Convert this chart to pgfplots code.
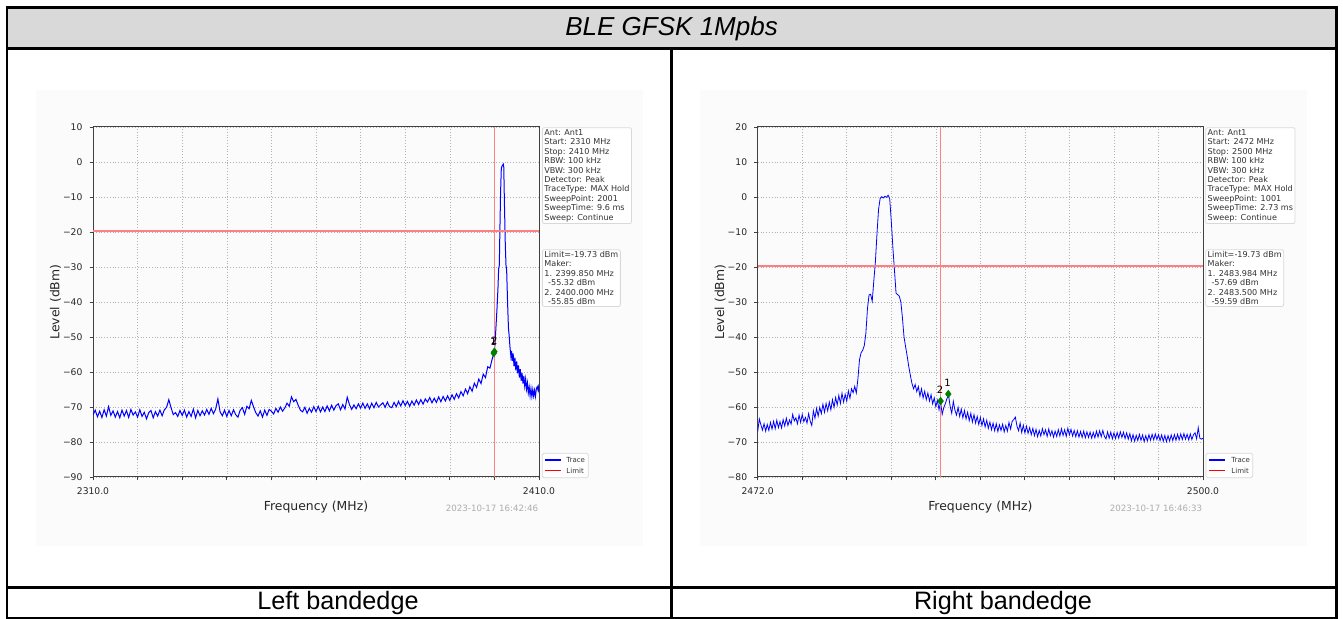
\documentclass[border=0pt]{standalone}
\usepackage{pgfplots}
\pgfplotsset{compat=1.18}
\usepackage{fontspec}
\setmainfont{DejaVu Sans}
\newfontfamily\arial{Liberation Sans}
\definecolor{hdr}{HTML}{D9D9D9}
\definecolor{limred}{HTML}{FF8080}
\definecolor{mkgreen}{HTML}{008000}
\definecolor{txt}{HTML}{333333}
\definecolor{figbg}{HTML}{FBFBFB}

\pgfplotsset{
  spec/.style={
    scale only axis, width=223pt, height=175pt,
    axis line style={black!75, line width=0.5pt},
    tick style={black!75, line width=0.4pt},
    major tick length=1.75pt,
    tick align=outside,
    xtick pos=bottom, ytick pos=left,
    grid=major,
    grid style={densely dotted, black!30, line width=0.3pt},
    ticklabel style={font=\fontsize{4.6}{5}\selectfont, text=black!85},
    label style={font=\fontsize{6.2}{7}\selectfont, text=black!85},
    xlabel={Frequency (MHz)},
    ylabel={Level (dBm)},
    xlabel style={at={(axis description cs:0.5,-0.086)}, anchor=center},
    ylabel style={at={(axis description cs:-0.084,0.5)}, anchor=center},
  },
  trace/.style={color=blue, line width=0.5pt},
  limit/.style={color=limred, line width=0.75pt},
  mk/.style={only marks, mark=diamond*, mark size=1.8pt, color=mkgreen},
}
\tikzset{
  info/.style={draw=black!15, fill=white, rounded corners=1pt, anchor=north west,
    align=left, inner xsep=1pt, inner ysep=0.8pt, text=txt,
    font=\fontsize{4.04}{4.73}\selectfont},
  stamp/.style={text=black!32, font=\fontsize{4.34}{5}\selectfont},
  legtxt/.style={anchor=west, inner sep=0pt, text=txt, font=\fontsize{3.5}{4}\selectfont},
}

\begin{document}
\begin{tikzpicture}
\path[use as bounding box] (0,0) rectangle (671.5pt,309.5pt);
\fill[white] (0,0) rectangle (671.5pt,309.5pt);

% table frame
\fill[hdr] (3.5pt,285.5pt) rectangle (668.5pt,305.5pt);
\fill[figbg] (18pt,36.5pt) rectangle (321.5pt,264.5pt);
\fill[figbg] (350pt,36.5pt) rectangle (653.5pt,264.5pt);
\draw[line width=1.5pt] (3pt,305.5pt) -- (669pt,305.5pt);
\draw[line width=1.4pt] (3pt,285.3pt) -- (669pt,285.3pt);
\draw[line width=1.4pt] (3pt,15.9pt) -- (669pt,15.9pt);
\draw[line width=0.8pt] (3pt,0.6pt) -- (669pt,0.6pt);
\draw[line width=1pt] (3.5pt,0.2pt) -- (3.5pt,306.2pt);
\draw[line width=1.2pt] (668.2pt,0.2pt) -- (668.2pt,306.2pt);
\draw[line width=1.4pt] (335.7pt,0.2pt) -- (335.7pt,285.5pt);
\node[font=\arial\itshape\fontsize{13}{15}\selectfont] at (335.8pt,295.3pt) {BLE GFSK 1Mpbs};
\node[font=\arial\fontsize{12.6}{14}\selectfont] at (169pt,8pt) {Left bandedge};
\node[font=\arial\fontsize{12.6}{14}\selectfont] at (501.5pt,8pt) {Right bandedge};

% left bandedge
\begin{axis}[spec, at={(46.5pt,71pt)},
  xmin=2310, xmax=2410, ymin=-90, ymax=10,
  xtick={2310,2320,...,2410},
  xticklabels={2310.0,,,,,,,,,,2410.0},
  ytick={-90,-80,...,10},
  yticklabels={−90,−80,−70,−60,−50,−40,−30,−20,−10,0,10}]
\addplot[trace] coordinates {
(2310,-72.3)(2310.5,-70.9)(2311,-72.8)(2311.5,-71.2)(2312,-73.0)(2312.5,-70.8)(2313,-72.6)(2313.5,-69.9)(2314,-72.4)(2314.5,-71.1)
(2315,-72.9)(2315.5,-71.3)(2316,-73.1)(2316.5,-70.9)(2317,-72.6)(2317.5,-71.0)(2318,-73.0)(2318.5,-70.7)(2319,-72.3)(2319.5,-71.4)
(2320,-72.9)(2320.5,-70.8)(2321,-72.7)(2321.5,-71.5)(2322,-73.4)(2322.5,-71.6)(2323,-71.0)(2323.5,-73.1)(2324,-71.3)(2324.5,-72.6)
(2325,-70.9)(2325.5,-72.5)(2326,-70.8)(2326.5,-70.1)(2327,-67.9)(2327.5,-70.2)(2328,-72.2)(2328.5,-71.6)(2329,-72.7)(2329.5,-71.0)
(2330,-72.4)(2330.5,-70.9)(2331,-72.9)(2331.5,-71.3)(2332,-72.7)(2332.5,-70.6)(2333,-73.1)(2333.5,-71.0)(2334,-72.5)(2334.5,-71.1)
(2335,-72.3)(2335.5,-70.7)(2336,-72.1)(2336.5,-70.4)(2337,-71.9)(2337.5,-70.6)(2338,-67.7)(2338.5,-71.4)(2339,-72.5)(2339.5,-70.9)
(2340,-72.7)(2340.5,-71.0)(2341,-72.5)(2341.5,-70.8)(2342,-72.2)(2342.5,-72.9)(2343,-70.9)(2343.5,-70.2)(2344,-72.1)(2344.5,-69.8)
(2345,-70.5)(2345.5,-68.1)(2346,-70.0)(2346.5,-71.6)(2347,-72.6)(2347.5,-71.1)(2348,-72.9)(2348.5,-70.9)(2349,-72.4)(2349.5,-70.7)
(2350,-71.2)(2350.5,-72.0)(2351,-70.4)(2351.5,-71.5)(2352,-70.0)(2352.5,-71.2)(2353,-70.3)(2353.5,-68.9)(2354,-69.8)(2354.5,-67.1)
(2355,-68.5)(2355.5,-67.8)(2356,-69.5)(2356.5,-70.9)(2357,-71.4)(2357.5,-70.1)(2358,-71.8)(2358.5,-70.4)(2359,-71.5)(2359.5,-69.9)
(2360,-71.3)(2360.5,-69.8)(2361,-71.4)(2361.5,-70.0)(2362,-71.3)(2362.5,-69.7)(2363,-71.1)(2363.5,-69.5)(2364,-70.9)(2364.5,-69.6)
(2365,-69.1)(2365.5,-70.8)(2366,-69.3)(2366.5,-70.6)(2367,-67.2)(2367.5,-69.3)(2368,-70.7)(2368.5,-69.4)(2369,-70.5)(2369.5,-69.1)
(2370,-70.3)(2370.5,-68.9)(2371,-70.4)(2371.5,-69.1)(2372,-70.5)(2372.5,-68.9)(2373,-70.2)(2373.5,-68.7)(2374,-70.0)(2374.5,-69.4)
(2375,-68.8)(2375.5,-70.1)(2376,-68.6)(2376.5,-69.9)(2377,-70.2)(2377.5,-68.7)(2378,-69.9)(2378.5,-68.4)(2379,-69.7)(2379.5,-68.2)
(2380,-69.6)(2380.5,-68.4)(2381,-69.8)(2381.5,-68.3)(2382,-69.5)(2382.5,-68.0)(2383,-69.3)(2383.5,-67.9)(2384,-69.2)(2384.5,-67.7)
(2385,-68.6)(2385.5,-67.3)(2386,-68.8)(2386.5,-67.5)(2387,-68.7)(2387.5,-67.1)(2388,-68.5)(2388.5,-67.0)(2389,-68.3)(2389.5,-66.8)
(2390,-68.1)(2390.5,-66.5)(2391,-67.8)(2391.5,-66.2)(2392,-67.4)(2392.5,-65.6)(2393,-66.8)(2393.5,-64.9)(2394,-66.2)(2394.5,-64.2)
(2395,-65.5)(2395.5,-63.2)(2396,-64.4)(2396.5,-62.0)(2397,-63.3)(2397.5,-60.6)(2398,-61.6)(2398.5,-58.5)(2399,-58.9)(2399.5,-56.3)
(2399.85,-54.8)(2400,-54.0)(2400.2,-50.5)(2400.4,-46.0)(2400.6,-41.5)(2400.8,-36.0)(2400.95,-30.5)(2401.1,-29.5)(2401.25,-18.0)(2401.4,-8.0)
(2401.55,-1.8)(2401.7,-1.2)(2401.85,-0.9)(2402,-0.6)(2402.1,-1.5)(2402.25,-12.0)(2402.45,-24.0)(2402.6,-29.5)(2402.75,-31.0)(2402.95,-40.0)
(2403.15,-47.5)(2403.3,-49.5)(2403.5,-53.0)(2403.7,-55.6)(2403.85,-54.0)(2404,-56.8)(2404.2,-54.7)(2404.4,-58.4)(2404.6,-55.9)(2404.8,-59.5)
(2405,-57.0)(2405.2,-60.4)(2405.4,-58.1)(2405.6,-61.6)(2405.8,-59.2)(2406,-62.5)(2406.2,-60.3)(2406.4,-63.3)(2406.6,-61.1)(2406.8,-64.1)
(2407,-62.0)(2407.2,-64.9)(2407.4,-63.1)(2407.6,-66.0)(2407.8,-64.3)(2408,-66.8)(2408.2,-64.7)(2408.4,-67.0)(2408.6,-65.0)(2408.8,-66.9)
(2409,-65.2)(2409.2,-67.0)(2409.4,-64.8)(2409.6,-64.2)(2409.8,-65.3)(2409.9,-64.4)(2410,-65.6)
};
\addplot[limit] coordinates {(2310,-19.73)(2410,-19.73)};
\addplot[limit] coordinates {(2400,-90)(2400,10)};
\addplot[mk] coordinates {(2399.85,-54.6)(2400,-54.2)};
\node[font=\fontsize{5}{5}\selectfont] at (axis cs:2399.8,-51.4) {1};
\node[font=\fontsize{5}{5}\selectfont] at (axis cs:2400,-51.0) {2};
\end{axis}
\node[info] at (271pt,245.85pt) {Ant: Ant1\\Start: 2310 MHz\\Stop: 2410 MHz\\RBW: 100 kHz\\VBW: 300 kHz\\Detector: Peak\\TraceType: MAX Hold\\SweepPoint: 2001\\SweepTime: 9.6 ms\\Sweep: Continue};
\node[info] at (271pt,184.85pt) {Limit=-19.73 dBm\\Maker:\\1. 2399.850 MHz\\\hspace{1.9pt}-55.32 dBm\\2. 2400.000 MHz\\\hspace{1.9pt}-55.85 dBm};
\node[stamp] at (246pt,55.35pt) {2023-10-17 16:42:46};
% legend, left
\draw[black!15, fill=white, rounded corners=0.8pt] (271.15pt,70.65pt) rectangle (294.15pt,82.85pt);
\draw[blue, line width=0.75pt] (272.5pt,79.5pt) -- (280.35pt,79.5pt);
\draw[red, line width=0.75pt] (272.5pt,74.15pt) -- (280.35pt,74.15pt);
\node[legtxt] at (283pt,79.5pt) {Trace};
\node[legtxt] at (283pt,74.15pt) {Limit};

% right bandedge
\begin{axis}[spec, at={(378.85pt,71pt)}, width=222.65pt,
  xmin=2472, xmax=2500, ymin=-80, ymax=20,
  xtick={2472,2474.8,2477.6,2480.4,2483.2,2486,2488.8,2491.6,2494.4,2497.2,2500},
  xticklabels={2472.0,,,,,,,,,,2500.0},
  ytick={-80,-70,...,20},
  yticklabels={−80,−70,−60,−50,−40,−30,−20,−10,0,10,20}]
\addplot[trace, line width=0.4pt] coordinates {
(2472.0,-67.0)(2472.1,-63.4)(2472.2,-65.1)(2472.3,-66.6)(2472.4,-64.8)(2472.5,-66.9)(2472.6,-65.0)(2472.7,-66.7)(2472.8,-64.4)(2472.9,-66.3)
(2473.0,-64.1)(2473.1,-66.2)(2473.2,-63.8)(2473.3,-65.9)(2473.4,-64.2)(2473.5,-66.0)(2473.6,-63.6)(2473.7,-65.4)(2473.8,-63.2)(2473.9,-65.3)
(2474.0,-63.7)(2474.1,-64.9)(2474.2,-62.1)(2474.3,-64.0)(2474.4,-63.1)(2474.5,-64.8)(2474.6,-62.3)(2474.7,-64.4)(2474.8,-62.1)(2474.9,-64.2)
(2475.0,-63.0)(2475.1,-64.6)(2475.2,-61.9)(2475.3,-64.0)(2475.4,-65.3)(2475.5,-61.1)(2475.6,-63.2)(2475.7,-60.4)(2475.8,-62.6)(2475.9,-60.1)
(2476.0,-61.9)(2476.1,-59.2)(2476.2,-61.5)(2476.3,-59.0)(2476.4,-61.1)(2476.5,-58.6)(2476.6,-60.8)(2476.7,-57.9)(2476.8,-60.1)(2476.9,-57.3)
(2477.0,-59.4)(2477.1,-56.7)(2477.2,-59.0)(2477.3,-56.1)(2477.4,-58.6)(2477.5,-56.4)(2477.6,-58.3)(2477.7,-55.4)(2477.8,-57.5)(2477.9,-54.8)
(2478.0,-55.9)(2478.1,-54.1)(2478.2,-56.0)(2478.3,-52.0)(2478.4,-46.5)(2478.5,-44.5)(2478.6,-43.8)(2478.7,-42.5)(2478.8,-39.0)(2478.9,-32.0)
(2479.0,-28.0)(2479.1,-27.8)(2479.2,-29.8)(2479.3,-24.0)(2479.4,-18.5)(2479.5,-10.5)(2479.6,-3.5)(2479.7,-0.4)(2479.8,0.1)(2479.9,-0.3)
(2480.0,0.2)(2480.1,-0.1)(2480.2,0.5)(2480.3,-0.5)(2480.4,-7.0)(2480.5,-14.5)(2480.6,-21.0)(2480.7,-27.5)(2480.8,-27.9)(2480.9,-28.3)
(2481.0,-30.0)(2481.1,-34.5)(2481.2,-40.0)(2481.3,-42.8)(2481.4,-45.5)(2481.5,-48.5)(2481.6,-51.0)(2481.7,-53.3)(2481.8,-54.8)(2481.9,-53.6)
(2482.0,-55.6)(2482.1,-54.2)(2482.2,-56.9)(2482.3,-54.8)(2482.4,-57.4)(2482.5,-55.5)(2482.6,-57.9)(2482.7,-56.0)(2482.8,-58.3)(2482.9,-56.5)
(2483.0,-59.1)(2483.1,-57.4)(2483.2,-59.9)(2483.3,-58.1)(2483.4,-60.8)(2483.5,-58.6)(2483.6,-62.1)(2483.7,-60.2)(2483.8,-59.0)(2483.9,-57.6)
(2484.0,-56.6)(2484.1,-59.8)(2484.2,-61.8)(2484.3,-58.4)(2484.4,-60.9)(2484.5,-62.3)(2484.6,-60.1)(2484.7,-62.7)(2484.8,-60.6)(2484.9,-63.1)
(2485.0,-61.0)(2485.1,-63.4)(2485.2,-61.5)(2485.3,-63.9)(2485.4,-61.8)(2485.5,-64.3)(2485.6,-62.2)(2485.7,-64.6)(2485.8,-62.7)(2485.9,-65.0)
(2486.0,-63.0)(2486.1,-65.3)(2486.2,-63.4)(2486.3,-65.7)(2486.4,-63.8)(2486.5,-66.1)(2486.6,-64.3)(2486.7,-66.5)(2486.8,-64.6)(2486.9,-66.8)
(2487.0,-64.8)(2487.1,-67.0)(2487.2,-65.1)(2487.3,-66.7)(2487.4,-64.9)(2487.5,-67.1)(2487.6,-65.3)(2487.7,-66.9)(2487.8,-64.4)(2487.9,-66.3)
(2488.0,-64.1)(2488.1,-63.6)(2488.2,-62.9)(2488.3,-65.4)(2488.4,-66.8)(2488.5,-64.6)(2488.6,-67.3)(2488.7,-65.2)(2488.8,-67.4)(2488.9,-65.5)
(2489.0,-67.5)(2489.1,-65.9)(2489.2,-67.9)(2489.3,-66.1)(2489.4,-68.2)(2489.5,-66.4)(2489.6,-68.5)(2489.7,-66.7)(2489.8,-68.3)(2489.9,-66.2)
(2490.0,-67.9)(2490.1,-66.5)(2490.2,-68.4)(2490.3,-66.3)(2490.4,-68.2)(2490.5,-66.8)(2490.6,-68.6)(2490.7,-66.9)(2490.8,-68.4)(2490.9,-66.5)
(2491.0,-68.3)(2491.1,-66.2)(2491.2,-68.1)(2491.3,-66.5)(2491.4,-68.4)(2491.5,-66.1)(2491.6,-68.0)(2491.7,-66.4)(2491.8,-68.3)(2491.9,-66.7)
(2492.0,-68.5)(2492.1,-66.8)(2492.2,-68.6)(2492.3,-67.0)(2492.4,-68.7)(2492.5,-66.9)(2492.6,-68.8)(2492.7,-67.1)(2492.8,-68.7)(2492.9,-67.2)
(2493.0,-68.9)(2493.1,-67.3)(2493.2,-68.8)(2493.3,-66.9)(2493.4,-68.6)(2493.5,-66.8)(2493.6,-68.5)(2493.7,-66.7)(2493.8,-68.4)(2493.9,-69.1)
(2494.0,-67.1)(2494.1,-68.9)(2494.2,-67.2)(2494.3,-69.1)(2494.4,-67.4)(2494.5,-69.0)(2494.6,-67.3)(2494.7,-68.9)(2494.8,-67.1)(2494.9,-68.7)
(2495.0,-67.2)(2495.1,-69.0)(2495.2,-67.4)(2495.3,-69.2)(2495.4,-67.6)(2495.5,-69.7)(2495.6,-67.9)(2495.7,-69.8)(2495.8,-68.1)(2495.9,-69.6)
(2496.0,-67.8)(2496.1,-69.5)(2496.2,-68.0)(2496.3,-69.9)(2496.4,-68.2)(2496.5,-69.7)(2496.6,-67.9)(2496.7,-69.5)(2496.8,-67.8)(2496.9,-69.4)
(2497.0,-67.7)(2497.1,-69.3)(2497.2,-67.9)(2497.3,-69.6)(2497.4,-68.0)(2497.5,-69.8)(2497.6,-68.1)(2497.7,-69.9)(2497.8,-68.2)(2497.9,-69.7)
(2498.0,-68.0)(2498.1,-69.6)(2498.2,-67.9)(2498.3,-69.5)(2498.4,-67.8)(2498.5,-69.4)(2498.6,-67.7)(2498.7,-69.3)(2498.8,-67.6)(2498.9,-69.2)
(2499.0,-67.8)(2499.1,-69.4)(2499.2,-67.7)(2499.3,-69.3)(2499.4,-67.9)(2499.5,-67.4)(2499.6,-69.1)(2499.7,-65.9)(2499.8,-68.9)(2499.9,-69.2)
(2500.0,-68.9)
};
\addplot[limit] coordinates {(2472,-19.73)(2500,-19.73)};
\addplot[limit] coordinates {(2483.5,-80)(2483.5,20)};
\addplot[mk] coordinates {(2483.5,-58.3)(2483.984,-56.3)};
\node[font=\fontsize{5}{5}\selectfont] at (axis cs:2483.46,-55.1) {2};
\node[font=\fontsize{5}{5}\selectfont] at (axis cs:2483.94,-53.2) {1};
\end{axis}
\node[info] at (602.65pt,245.85pt) {Ant: Ant1\\Start: 2472 MHz\\Stop: 2500 MHz\\RBW: 100 kHz\\VBW: 300 kHz\\Detector: Peak\\TraceType: MAX Hold\\SweepPoint: 1001\\SweepTime: 2.73 ms\\Sweep: Continue};
\node[info] at (602.65pt,184.85pt) {Limit=-19.73 dBm\\Maker:\\1. 2483.984 MHz\\\hspace{1.9pt}-57.69 dBm\\2. 2483.500 MHz\\\hspace{1.9pt}-59.59 dBm};
\node[stamp] at (578pt,55.35pt) {2023-10-17 16:46:33};
% legend, right
\draw[black!15, fill=white, rounded corners=0.8pt] (603pt,70.65pt) rectangle (626.35pt,82.85pt);
\draw[blue, line width=0.75pt] (604.5pt,79.5pt) -- (612.35pt,79.5pt);
\draw[red, line width=0.75pt] (604.5pt,74.15pt) -- (612.35pt,74.15pt);
\node[legtxt] at (615.5pt,79.5pt) {Trace};
\node[legtxt] at (615.5pt,74.15pt) {Limit};
\end{tikzpicture}
\end{document}
